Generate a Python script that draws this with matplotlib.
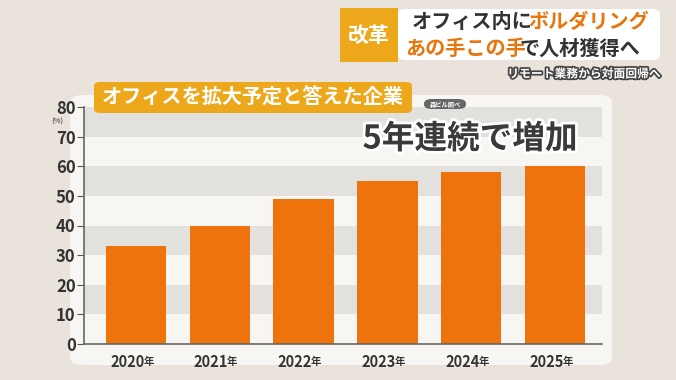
import matplotlib.pyplot as plt
import matplotlib.patheffects as pe
from matplotlib.patches import FancyBboxPatch, Rectangle

plt.rcParams['font.family'] = ['Noto Sans CJK JP', 'DejaVu Sans']

# data
years = ['2020', '2021', '2022', '2023', '2024', '2025']
share = [33, 40, 49, 55, 58, 60]
yticks = [0, 10, 20, 30, 40, 50, 60, 70, 80]

W, H = 676, 380
fig = plt.figure(figsize=(W / 100, H / 100), dpi=100)
fig.patch.set_facecolor('#e9e3db')

def px(x, y):
    return x / W, 1 - y / H

# white chart panel (behind the axes)
fig.patches.append(FancyBboxPatch(px(70, 365), 542 / W, 270 / H,
                                  boxstyle='round,pad=0,rounding_size=0.02',
                                  transform=fig.transFigure, fc='#f7f6f3', ec='none',
                                  zorder=-5))

x0, y0 = px(84, 344)
x1, y1 = px(602, 107)
ax = fig.add_axes([x0, y0, x1 - x0, y1 - y0])
ax.set_facecolor('none')
for lo in (10, 30, 50, 70):
    ax.axhspan(lo, lo + 10, color='#e2e1de', lw=0, zorder=0)
ax.bar(range(len(years)), share, width=0.72, color='#ef730c', zorder=2)
ax.set_xlim(-0.62, 5.56)
ax.set_ylim(0, 80)
ax.set_yticks(yticks)
ax.set_yticklabels([str(v) for v in yticks], fontsize=12, color='#333333', fontweight='bold')
ax.set_xticks(range(len(years)))
ax.set_xticklabels([''] * len(years))
ax.tick_params(axis='y', length=5, color='#555555', pad=1)
ax.tick_params(axis='x', length=0)
for s in ('top', 'right'):
    ax.spines[s].set_visible(False)
for s in ('left', 'bottom'):
    ax.spines[s].set_color('#666666')
    ax.spines[s].set_linewidth(1.2)
ax.text(-0.052, 0.955, '(%)', transform=ax.transAxes, fontsize=5.5, color='#333333',
        ha='center', va='top')
for i, y in enumerate(years):
    ax.annotate(y, (i, 0), xytext=(6, -13), textcoords='offset points', ha='right',
                va='center', fontsize=10.5, fontweight='bold', color='#333333')
    ax.annotate('年', (i, 0), xytext=(5.2, -13), textcoords='offset points', ha='left',
                va='center', fontsize=7.5, fontweight='bold', color='#333333')

outline = [pe.withStroke(linewidth=4, foreground='white')]
fig.text(*px(470, 139), '5年連続で増加', fontsize=23.5, fontweight='bold', color='#3a3a3a',
         ha='center', va='center', path_effects=outline)

# source pill
fig.patches.append(FancyBboxPatch(px(424, 109), 42 / W, 10 / H,
                                  boxstyle='round,pad=0,rounding_size=0.012',
                                  transform=fig.transFigure, fc='#666666', ec='none'))
fig.text(*px(445, 104), '森ビル調べ', fontsize=4.5, color='white', ha='center', va='center',
         fontweight='bold')

# chart title box
fig.patches.append(FancyBboxPatch(px(94, 113), 318 / W, 31 / H,
                                  boxstyle='round,pad=0,rounding_size=0.01',
                                  transform=fig.transFigure, fc='#eda71a', ec='none'))
fig.text(*px(253, 97), 'オフィスを拡大予定と答えた企業', fontsize=14.5, fontweight='bold',
         color='white', ha='center', va='center')

# header
fig.patches.append(Rectangle(px(340, 62), 58 / W, 54 / H, transform=fig.transFigure,
                             fc='#eda71a', ec='none'))
fig.text(*px(369, 35), '改革', fontsize=15, fontweight='bold', color='white',
         ha='center', va='center')
fig.patches.append(FancyBboxPatch(px(398, 60), 262 / W, 51 / H,
                                  boxstyle='round,pad=0,rounding_size=0.012',
                                  transform=fig.transFigure, fc='white', ec='none'))
fig.text(*px(412, 22), 'オフィス内に', fontsize=14.5, fontweight='bold', color='#333333',
         ha='left', va='center')
fig.text(*px(528, 22), 'ボルダリング', fontsize=14.5, fontweight='bold', color='#e8760c',
         ha='left', va='center')
fig.text(*px(405, 48), 'あの手この手', fontsize=14.5, fontweight='bold', color='#e8760c',
         ha='left', va='center')
fig.text(*px(520, 48), 'で人材獲得へ', fontsize=14.5, fontweight='bold', color='#333333',
         ha='left', va='center')
fig.text(*px(660, 74), 'リモート業務から対面回帰へ', fontsize=8.5, fontweight='bold',
         color='white', ha='right', va='center',
         path_effects=[pe.withStroke(linewidth=2.5, foreground='#444444')])

fig.savefig('out.png', dpi=100)
